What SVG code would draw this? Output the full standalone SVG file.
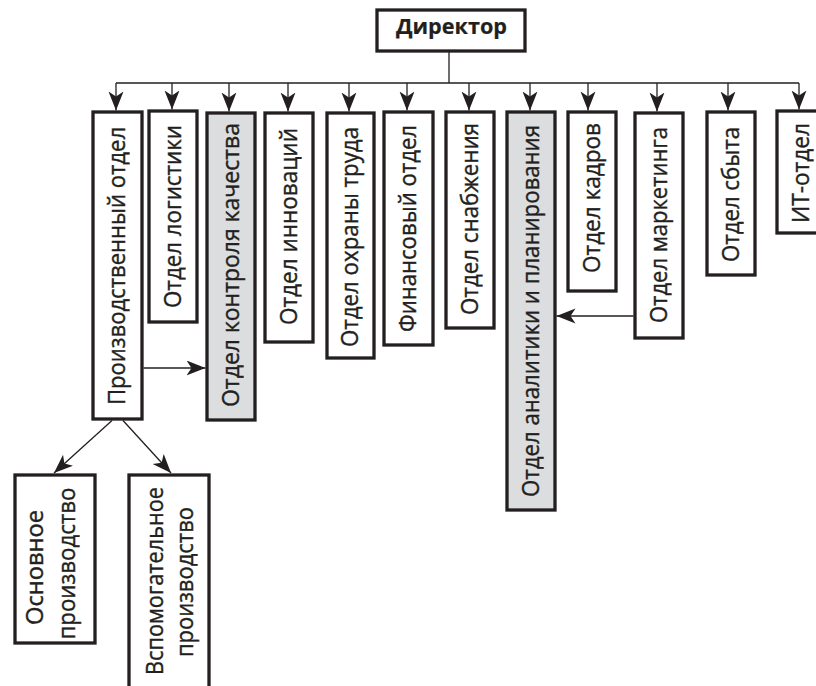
<svg xmlns="http://www.w3.org/2000/svg" width="816" height="686" viewBox="0 0 816 686">
<style>
.box{fill:#ffffff;stroke:#231f20;stroke-width:3.3}
.gray{fill:#dcdddf}
.t{font-family:"Open Sans","Liberation Sans",Arial,sans-serif;font-size:24.5px;fill:#231f20;stroke:#231f20;stroke-width:0.4;text-anchor:middle}
.b{font-weight:bold;font-size:22px;stroke-width:0.2}
.c{fill:none;stroke:#231f20;stroke-width:1.3}
.a{marker-end:url(#ah)}
</style>
<defs>
<marker id="ah" markerUnits="userSpaceOnUse" markerWidth="20" markerHeight="16" refX="19" refY="7.5" orient="auto">
<path d="M0,0 L19,7.5 L0,15 L5,7.5 Z" fill="#231f20"/>
</marker>
</defs>
<rect width="816" height="686" fill="#ffffff"/>
<g id="connectors">
<path class="c" d="M449,51.5 V83 M116,83 H799"/>
<line class="c a" x1="116" y1="83" x2="116" y2="110.5"/>
<line class="c a" x1="172" y1="83" x2="172" y2="109.5"/>
<line class="c a" x1="229" y1="83" x2="229" y2="111.5"/>
<line class="c a" x1="288" y1="83" x2="288" y2="111.5"/>
<line class="c a" x1="349" y1="83" x2="349" y2="111.5"/>
<line class="c a" x1="407" y1="83" x2="407" y2="110.5"/>
<line class="c a" x1="469" y1="83" x2="469" y2="110.5"/>
<line class="c a" x1="530" y1="83" x2="530" y2="110.5"/>
<line class="c a" x1="588" y1="83" x2="588" y2="110.5"/>
<line class="c a" x1="657" y1="83" x2="657" y2="111.5"/>
<line class="c a" x1="728" y1="83" x2="728" y2="110.5"/>
<line class="c a" x1="799" y1="83" x2="799" y2="109.5"/>
<line class="c a" x1="143.5" y1="368" x2="205.5" y2="368"/>
<line class="c a" x1="633.5" y1="316" x2="556.5" y2="316"/>
<line class="c a" x1="112" y1="420.5" x2="54" y2="473"/>
<line class="c a" x1="123" y1="420.5" x2="171" y2="473"/>
</g>
<g id="director">
<rect class="box" x="377" y="10" width="148" height="41"/>
<text class="t b" x="451.5" y="34" textLength="111" lengthAdjust="spacingAndGlyphs">Директор</text>
</g>
<g id="n1">
<rect class="box" x="93" y="112" width="49" height="307"/>
<text class="t" transform="translate(117.5,266) rotate(-90)" y="7.5" textLength="278" lengthAdjust="spacingAndGlyphs">Производственный отдел</text>
</g>
<g id="n2">
<rect class="box" x="149" y="111" width="48" height="211"/>
<text class="t" transform="translate(173,216.5) rotate(-90)" y="7.5" textLength="183" lengthAdjust="spacingAndGlyphs">Отдел логистики</text>
</g>
<g id="n3">
<rect class="box gray" x="207" y="113" width="48" height="307"/>
<text class="t" transform="translate(231,265) rotate(-90)" y="7.5" textLength="284" lengthAdjust="spacingAndGlyphs">Отдел контроля качества</text>
</g>
<g id="n4">
<rect class="box" x="265" y="113" width="48" height="229"/>
<text class="t" transform="translate(289,226.5) rotate(-90)" y="7.5" textLength="197" lengthAdjust="spacingAndGlyphs">Отдел инноваций</text>
</g>
<g id="n5">
<rect class="box" x="327" y="113" width="47" height="245"/>
<text class="t" transform="translate(350.5,237) rotate(-90)" y="7.5" textLength="220" lengthAdjust="spacingAndGlyphs">Отдел охраны труда</text>
</g>
<g id="n6">
<rect class="box" x="384" y="112" width="49" height="233"/>
<text class="t" transform="translate(408.5,228.5) rotate(-90)" y="7.5" textLength="207" lengthAdjust="spacingAndGlyphs">Финансовый отдел</text>
</g>
<g id="n7">
<rect class="box" x="446" y="112" width="48" height="216"/>
<text class="t" transform="translate(470,219) rotate(-90)" y="7.5" textLength="192" lengthAdjust="spacingAndGlyphs">Отдел снабжения</text>
</g>
<g id="n8">
<rect class="box gray" x="507" y="112" width="48" height="398"/>
<text class="t" transform="translate(531,311) rotate(-90)" y="7.5" textLength="372" lengthAdjust="spacingAndGlyphs">Отдел аналитики и планирования</text>
</g>
<g id="n9">
<rect class="box" x="568" y="112" width="48" height="179"/>
<text class="t" transform="translate(592,198) rotate(-90)" y="7.5" textLength="150" lengthAdjust="spacingAndGlyphs">Отдел кадров</text>
</g>
<g id="n10">
<rect class="box" x="635" y="113" width="48" height="225"/>
<text class="t" transform="translate(659,225) rotate(-90)" y="7.5" textLength="196" lengthAdjust="spacingAndGlyphs">Отдел маркетинга</text>
</g>
<g id="n11">
<rect class="box" x="707" y="112" width="48" height="163"/>
<text class="t" transform="translate(731,194.5) rotate(-90)" y="7.5" textLength="135" lengthAdjust="spacingAndGlyphs">Отдел сбыта</text>
</g>
<g id="n12">
<rect class="box" x="777" y="111" width="49" height="122"/>
<text class="t" transform="translate(801.5,173) rotate(-90)" y="7.5" textLength="100" lengthAdjust="spacingAndGlyphs">ИТ-отдел</text>
</g>
<g id="n13">
<rect class="box" x="15" y="475" width="80" height="168"/>
<text class="t" transform="translate(43,567.5) rotate(-90)" textLength="115" lengthAdjust="spacingAndGlyphs">Основное</text>
<text class="t" transform="translate(75,563.5) rotate(-90)" textLength="152" lengthAdjust="spacingAndGlyphs">производство</text>
</g>
<g id="n14">
<rect class="box" x="129" y="475" width="80" height="213"/>
<text class="t" transform="translate(163,581) rotate(-90)" textLength="188" lengthAdjust="spacingAndGlyphs">Вспомогательное</text>
<text class="t" transform="translate(193,582) rotate(-90)" textLength="150" lengthAdjust="spacingAndGlyphs">производство</text>
</g>
</svg>
